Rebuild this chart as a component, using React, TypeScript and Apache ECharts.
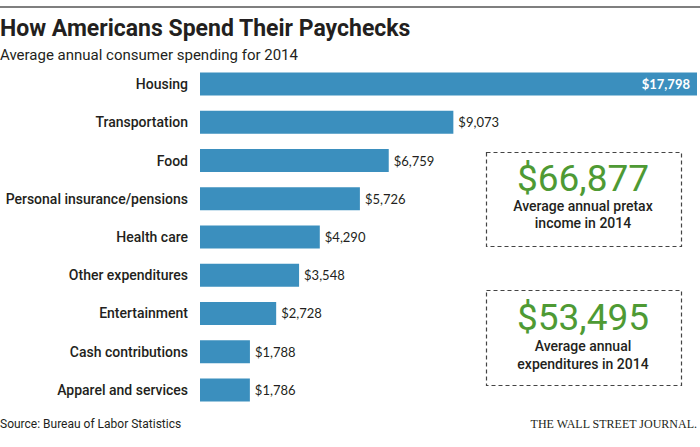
import React, { useEffect, useRef } from "react";
import * as echarts from "echarts";

const categories = [
  "Housing",
  "Transportation",
  "Food",
  "Personal insurance/pensions",
  "Health care",
  "Other expenditures",
  "Entertainment",
  "Cash contributions",
  "Apparel and services",
];
const values = [17798, 9073, 6759, 5726, 4290, 3548, 2728, 1788, 1786];
const incomeValue = "$66,877";
const incomeText = ["Average annual pretax", "income in 2014"];
const expValue = "$53,495";
const expText = ["Average annual", "expenditures in 2014"];

const BAR = "#3b8fbe";
const GREEN = "#4e9a34";
const INK = "#231f20";

export default function App() {
  const ref = useRef<HTMLDivElement>(null);
  useEffect(() => {
    if (!ref.current) return;
    const chart = echarts.init(ref.current, null, { renderer: "svg" });
    const fmt = (v: number) => "$" + v.toLocaleString("en-US");
    const big = { fontFamily: "Roboto", fontSize: 37, lineHeight: 30, fill: GREEN, align: "center", verticalAlign: "middle" };
    const small = { fontFamily: "Roboto", fontWeight: 500, fontSize: 14, lineHeight: 16, fill: INK, align: "center", verticalAlign: "middle" };
    chart.setOption({
      animation: false,
      backgroundColor: "#fff",
      grid: { left: 200, right: 3, top: 65, height: 344, containLabel: false },
      xAxis: { type: "value", min: 0, max: 17798, show: false },
      yAxis: {
        type: "category",
        inverse: true,
        data: categories,
        axisLine: { show: false },
        axisTick: { show: false },
        axisLabel: {
          fontFamily: "Roboto",
          fontSize: 14,
          fontWeight: 500,
          color: INK,
          margin: 12,
        },
      },
      series: [
        {
          type: "bar",
          data: values.map((v, i) =>
            i === 0
              ? {
                  value: v,
                  label: {
                    position: "insideRight",
                    color: "#fff",
                    fontWeight: "bold",
                    offset: [-2, 0],
                  },
                }
              : v
          ),
          barWidth: 23,
          itemStyle: { color: BAR },
          label: {
            show: true,
            position: "right",
            distance: 5,
            fontFamily: "Lato",
            fontSize: 13,
            color: INK,
            formatter: (p: any) => fmt(p.value),
          },
        },
      ],
      graphic: [
        { type: "line", shape: { x1: 0, y1: 7, x2: 700, y2: 7 }, style: { stroke: "#555", lineWidth: 1.5 } },
        { type: "text", left: 0, top: 17, style: { text: "How Americans Spend Their Paychecks", fontFamily: "Roboto", fontWeight: "bold", fontSize: 23, fill: INK } },
        { type: "text", left: 0, top: 47, style: { text: "Average annual consumer spending for 2014", fontFamily: "Roboto", fontSize: 15, fill: INK } },
        { type: "rect", shape: { x: 486.5, y: 152.5, width: 195, height: 94 }, style: { fill: "none", stroke: "#444", lineWidth: 1.2, lineDash: [4, 3] } },
        { type: "text", x: 583, y: 178, style: { text: incomeValue, ...big } },
        { type: "text", x: 583, y: 206, style: { text: incomeText[0], ...small } },
        { type: "text", x: 583, y: 223, style: { text: incomeText[1], ...small } },
        { type: "rect", shape: { x: 486.5, y: 290.5, width: 195, height: 95 }, style: { fill: "none", stroke: "#444", lineWidth: 1.2, lineDash: [4, 3] } },
        { type: "text", x: 583, y: 317, style: { text: expValue, ...big } },
        { type: "text", x: 583, y: 346, style: { text: expText[0], ...small } },
        { type: "text", x: 583, y: 364, style: { text: expText[1], ...small } },
        { type: "text", x: 0, y: 424, style: { text: "Source: Bureau of Labor Statistics", fontFamily: "Roboto", fontSize: 12, fill: INK, verticalAlign: "middle" } },
        { type: "text", x: 697, y: 424, style: { text: "THE WALL STREET JOURNAL.", fontFamily: "Liberation Serif", fontSize: 12, fill: INK, align: "right", verticalAlign: "middle" } },
      ],
    });
    return () => chart.dispose();
  }, []);
  return <div ref={ref} style={{ position: "fixed", left: 0, top: 0, width: 700, height: 447 }} />;
}
